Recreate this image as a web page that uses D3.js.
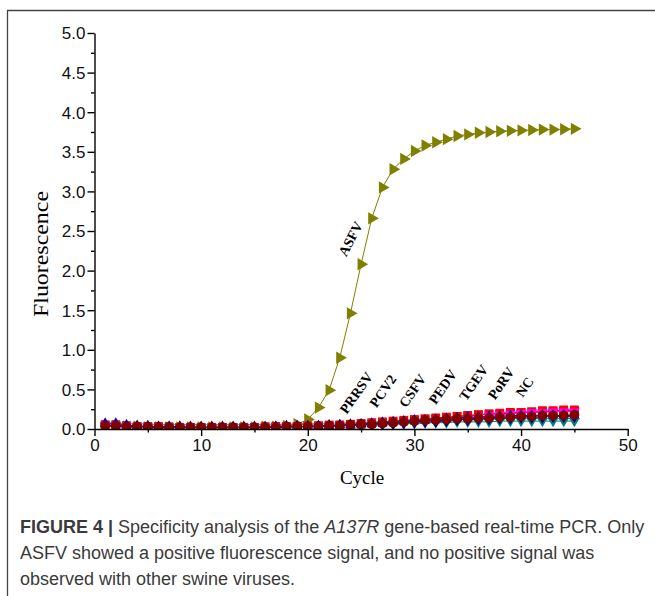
<!DOCTYPE html>
<html>
<head>
<meta charset="utf-8">
<script src="https://cdn.jsdelivr.net/npm/d3@7"></script>
<style>
  body { margin: 0; background: #fff; }
  svg { display: block; }
</style>
</head>
<body>
<svg id="chart" width="655" height="596"></svg>
<script>

// ---- data ----
var cycles = d3.range(1, 46)

var asfv  = [0.04,0.04,0.03,0.03,0.02,0.02,0.02,0.02,0.02,0.02,0.02,0.02,0.02,0.02,0.02,0.03,0.03,0.04,0.06,0.12,0.27,0.49,0.90,1.46,2.08,2.66,3.05,3.28,3.41,3.51,3.58,3.62,3.66,3.70,3.72,3.74,3.75,3.76,3.765,3.77,3.775,3.78,3.78,3.785,3.79]
var prrsv = [0.05,0.05,0.04,0.03,0.03,0.03,0.03,0.02,0.02,0.02,0.02,0.02,0.02,0.02,0.02,0.02,0.03,0.03,0.03,0.03,0.04,0.04,0.05,0.06,0.06,0.07,0.08,0.09,0.10,0.11,0.12,0.13,0.14,0.16,0.17,0.18,0.19,0.19,0.20,0.21,0.21,0.22,0.22,0.23,0.23]
var pcv2  = [0.05,0.05,0.04,0.03,0.03,0.03,0.02,0.02,0.02,0.02,0.02,0.02,0.02,0.02,0.02,0.03,0.03,0.03,0.03,0.04,0.04,0.05,0.05,0.06,0.07,0.08,0.09,0.10,0.11,0.12,0.13,0.14,0.15,0.16,0.17,0.18,0.19,0.20,0.21,0.21,0.22,0.23,0.23,0.24,0.24]
var csfv  = [0.07,0.07,0.05,0.04,0.03,0.03,0.03,0.03,0.02,0.02,0.02,0.02,0.02,0.02,0.02,0.02,0.03,0.03,0.03,0.03,0.04,0.04,0.05,0.05,0.06,0.07,0.08,0.09,0.10,0.11,0.11,0.12,0.13,0.14,0.15,0.15,0.16,0.16,0.17,0.17,0.17,0.17,0.17,0.17,0.17]
var pedv  = [0.05,0.05,0.04,0.03,0.03,0.02,0.02,0.02,0.02,0.02,0.02,0.02,0.02,0.02,0.02,0.02,0.02,0.03,0.03,0.03,0.03,0.04,0.04,0.05,0.05,0.06,0.06,0.07,0.07,0.08,0.08,0.09,0.10,0.11,0.13,0.15,0.17,0.18,0.19,0.20,0.21,0.21,0.22,0.22,0.22]
var tgev  = [0.04,0.04,0.03,0.03,0.02,0.02,0.02,0.02,0.02,0.02,0.02,0.02,0.02,0.02,0.02,0.02,0.02,0.02,0.02,0.03,0.03,0.03,0.04,0.04,0.05,0.05,0.06,0.06,0.07,0.07,0.08,0.08,0.08,0.09,0.09,0.09,0.09,0.10,0.10,0.10,0.10,0.10,0.10,0.10,0.10]
var porv  = [0.04,0.04,0.03,0.03,0.03,0.02,0.02,0.02,0.02,0.02,0.02,0.02,0.02,0.02,0.02,0.02,0.02,0.03,0.03,0.03,0.03,0.04,0.04,0.05,0.05,0.06,0.07,0.07,0.08,0.09,0.10,0.10,0.11,0.12,0.12,0.13,0.13,0.14,0.14,0.15,0.15,0.15,0.16,0.16,0.16]
var nc    = [0.04,0.04,0.03,0.03,0.03,0.02,0.02,0.02,0.02,0.02,0.02,0.02,0.02,0.02,0.02,0.02,0.02,0.03,0.03,0.03,0.03,0.04,0.04,0.05,0.06,0.06,0.07,0.08,0.09,0.10,0.11,0.11,0.12,0.13,0.13,0.14,0.14,0.15,0.15,0.16,0.16,0.17,0.17,0.17,0.18]

var yMajor = [0, 0.5, 1.0, 1.5, 2.0, 2.5, 3.0, 3.5, 4.0, 4.5, 5.0]
var yMinor = [0.25, 0.75, 1.25, 1.75, 2.25, 2.75, 3.25, 3.75, 4.25, 4.75]
var xMajor = [0, 10, 20, 30, 40, 50]
var xMinor = [5, 15, 25, 35, 45]

// curve labels (name, cycle, fluorescence where the text starts)
var labelNames = ["PRRSV", "PCV2", "CSFV", "PEDV", "TGEV", "PoRV", "NC"]
var labelCycle = [23.65, 26.45, 29.2, 32.0, 34.85, 37.55, 40.15]
var labelValue = [0.18, 0.26, 0.26, 0.30, 0.345, 0.36, 0.39]

// ---- series styling (drawn bottom to top) ----
var series = [
    {name: 'ASFV',  values: asfv,  color: '#808000', symbol: d3.symbolTriangle, size: 66, rotate: 90},
    {name: 'PRRSV', values: prrsv, color: '#000000', symbol: d3.symbolSquare,   size: 72, rotate: 0},
    {name: 'PCV2',  values: pcv2,  color: '#ff0000', symbol: d3.symbolSquare,   size: 78, rotate: 0},
    {name: 'PEDV',  values: pedv,  color: '#ff00ff', symbol: d3.symbolTriangle, size: 50, rotate: 180},
    {name: 'CSFV',  values: csfv,  color: '#0000ff', symbol: d3.symbolTriangle, size: 50, rotate: 0},
    {name: 'TGEV',  values: tgev,  color: '#008080', symbol: d3.symbolTriangle, size: 50, rotate: 180},
    {name: 'PoRV',  values: porv,  color: '#000080', symbol: d3.symbolDiamond,  size: 54, rotate: 0},
    {name: 'NC',    values: nc,    color: '#800000', symbol: d3.symbolCircle,   size: 76, rotate: 0}
]

var svg = d3.select('#chart')

var margin = {left: 94.5, right: 27.3, top: 33, bottom: 167}
var W = 655, H = 596

var x = d3.scaleLinear().domain([0, 50]).range([margin.left, W - margin.right])
var y = d3.scaleLinear().domain([0, 5]).range([H - margin.bottom, margin.top])

// frame around figure
svg.append('path')
    .attr('d', 'M7.5,596 V10.5 H655')
    .attr('fill', 'none')
    .attr('stroke', '#444')
    .attr('stroke-width', 1.3)

svg.append('clipPath').attr('id', 'plotClip')
    .append('rect')
    .attr('x', x(0)).attr('y', 0)
    .attr('width', x(50) - x(0) + 10)
    .attr('height', y(0))

var plot = svg.append('g').attr('clip-path', 'url(#plotClip)')

var line = d3.line()
    .x(function(d, i){ return x(cycles[i]) })
    .y(function(d){ return y(d) })

series.forEach(function(s){
    var g = plot.append('g').classed('series', true)
    g.append('path')
        .datum(s.values)
        .attr('d', line)
        .attr('fill', 'none')
        .attr('stroke', s.color)
        .attr('stroke-width', 1)
    g.selectAll('path.marker')
        .data(s.values)
        .enter().append('path')
        .classed('marker', true)
        .attr('d', d3.symbol().type(s.symbol).size(s.size))
        .attr('transform', function(d, i){
            return 'translate(' + x(cycles[i]) + ',' + y(d) + ') rotate(' + s.rotate + ')'
        })
        .attr('fill', s.color)
})

// axes
var tickFont = '"Liberation Sans", Arial, sans-serif'

var yAxis = svg.append('g')
    .attr('transform', 'translate(' + x(0) + ',0)')
    .call(d3.axisLeft(y).tickValues(yMajor).tickFormat(d3.format('.1f')).tickSize(7).tickSizeOuter(0))
svg.append('g')
    .attr('transform', 'translate(' + x(0) + ',0)')
    .call(d3.axisLeft(y).tickValues(yMinor).tickFormat('').tickSize(3.5).tickSizeOuter(0))
    .select('.domain').remove()

var xAxis = svg.append('g')
    .attr('transform', 'translate(0,' + y(0) + ')')
    .call(d3.axisBottom(x).tickValues(xMajor).tickFormat(d3.format('d')).tickSize(7).tickSizeOuter(0))
svg.append('g')
    .attr('transform', 'translate(0,' + y(0) + ')')
    .call(d3.axisBottom(x).tickValues(xMinor).tickFormat('').tickSize(3.5).tickSizeOuter(0))
    .select('.domain').remove()

svg.selectAll('.domain, .tick line').attr('stroke', '#000').attr('stroke-width', 1.4)
svg.selectAll('.tick text')
    .attr('font-family', tickFont)
    .attr('font-size', 17)
    .attr('fill', '#111')
yAxis.selectAll('.tick text').attr('x', -9).attr('dy', '0.35em')
xAxis.selectAll('.tick text').attr('y', 9).attr('dy', '0.76em')

// axis titles
var serif = '"Liberation Serif", "Times New Roman", serif'
svg.append('text')
    .attr('x', x(25) + 1)
    .attr('y', 484)
    .attr('text-anchor', 'middle')
    .attr('font-family', serif)
    .attr('font-size', 19)
    .text('Cycle')

svg.append('text')
    .attr('transform', 'translate(48,254) rotate(-90)')
    .attr('text-anchor', 'middle')
    .attr('font-family', serif)
    .attr('font-size', 22)
    .attr('textLength', 126)
    .attr('lengthAdjust', 'spacingAndGlyphs')
    .text('Fluorescence')

// curve labels
svg.selectAll('text.curveLabel')
    .data(labelNames)
    .enter().append('text')
    .classed('curveLabel', true)
    .attr('transform', function(d, i){
        return 'translate(' + x(labelCycle[i]) + ',' + y(labelValue[i]) + ') rotate(-55)'
    })
    .attr('font-family', serif)
    .attr('font-weight', 'bold')
    .attr('font-size', 14)
    .text(function(d){ return d })

svg.append('text')
    .classed('curveLabel', true)
    .attr('transform', 'translate(' + x(23.6) + ',' + y(2.17) + ') rotate(-62)')
    .attr('font-family', serif)
    .attr('font-weight', 'bold')
    .attr('font-size', 14)
    .text('ASFV')

// caption
var capFont = '"Liberation Sans", Arial, sans-serif'
var caption = svg.append('g')
    .attr('font-family', capFont)
    .attr('font-size', 18)
    .attr('fill', '#3a3a3a')

var line1 = caption.append('text').attr('x', 20).attr('y', 533)
line1.append('tspan').attr('font-weight', 'bold').text('FIGURE 4 | ')
line1.append('tspan').text('Specificity analysis of the ')
line1.append('tspan').attr('font-style', 'italic').text('A137R')
line1.append('tspan').text(' gene-based real-time PCR. Only')

caption.append('text').attr('x', 20).attr('y', 559)
    .text('ASFV showed a positive fluorescence signal, and no positive signal was')
caption.append('text').attr('x', 20).attr('y', 585)
    .text('observed with other swine viruses.')

</script>
</body>
</html>
